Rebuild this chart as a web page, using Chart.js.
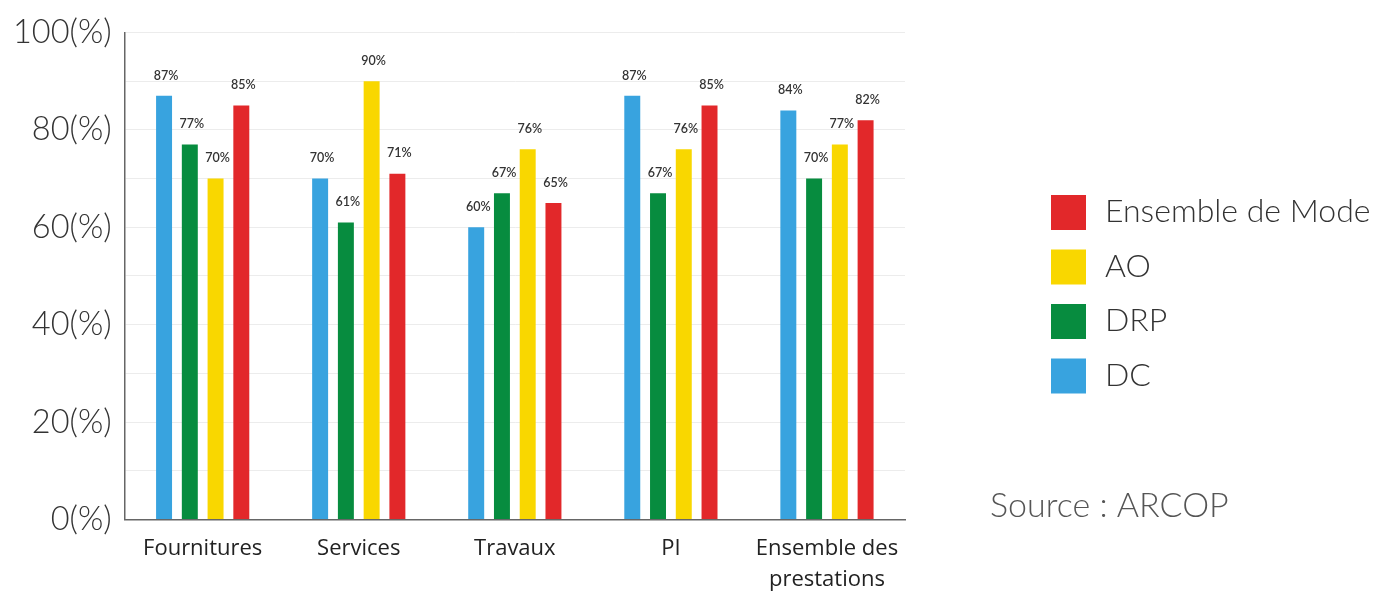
<!DOCTYPE html>
<html>
<head>
<meta charset="utf-8">
<script src="https://cdn.jsdelivr.net/npm/chart.js@4.4.1/dist/chart.umd.min.js"></script>
<style>
  html, body { margin: 0; padding: 0; background: #fff; }
  #wrap { width: 1374px; height: 593px; position: relative; }
</style>
</head>
<body>
<div id="wrap"><canvas id="chart"></canvas></div>
<script>
// categories and series values (percent)
const categories = ["Fournitures", "Services", "Travaux", "PI", ["Ensemble des", "prestations"]];
const dcValues = [87, 70, 60, 87, 84];
const drpValues = [77, 61, 67, 67, 70];
const aoValues = [70, 90, 76, 76, 77];
const ensembleValues = [85, 71, 65, 85, 82];
const seriesNames = ["DC", "DRP", "AO", "Ensemble de Mode"];
const seriesColors = ["#38a3df", "#078c3f", "#f9d700", "#e2282a"];
const yTicks = [0, 20, 40, 60, 80, 100];
const sourceText = "Source : ARCOP";

const FONT = "Lato, 'Noto Sans', sans-serif";
const XFONT = "'Open Sans', 'Noto Sans', sans-serif";

// value labels above each bar
const barLabels = {
  id: "barLabels",
  afterDatasetsDraw(chart) {
    const ctx = chart.ctx;
    ctx.save();
    ctx.font = "600 12.5px " + FONT;
    ctx.fillStyle = "#333";
    ctx.textAlign = "center";
    ctx.textBaseline = "bottom";
    chart.data.datasets.forEach((ds, i) => {
      const meta = chart.getDatasetMeta(i);
      meta.data.forEach((bar, j) => {
        ctx.fillText(ds.data[j] + "%", bar.x + 2, bar.y - 14);
      });
    });
    ctx.restore();
  }
};

// legend (reversed order) and source note on the right side
const sideLegend = {
  id: "sideLegend",
  afterDraw(chart) {
    const ctx = chart.ctx;
    const area = chart.chartArea;
    const x = area.right + 146;
    let y = 195;
    ctx.save();
    ctx.font = "300 32px " + FONT;
    ctx.textBaseline = "middle";
    ctx.textAlign = "left";
    for (let i = seriesNames.length - 1; i >= 0; i--) {
      ctx.fillStyle = seriesColors[i];
      ctx.fillRect(x, y, 35, 35);
      ctx.fillStyle = "#333";
      ctx.fillText(seriesNames[i], x + 54, y + 17);
      y += 54.5;
    }
    ctx.fillStyle = "#555";
    ctx.font = "300 34px " + FONT;
    ctx.fillText(sourceText, area.right + 85, 506);
    ctx.restore();
  }
};

const seriesData = [dcValues, drpValues, aoValues, ensembleValues];

new Chart(document.getElementById("chart"), {
  type: "bar",
  data: {
    labels: categories,
    datasets: seriesData.map((vals, i) => ({
      label: seriesNames[i],
      data: vals,
      backgroundColor: seriesColors[i],
      borderWidth: 0,
      categoryPercentage: 0.66,
      barPercentage: 0.62
    }))
  },
  options: {
    responsive: true,
    maintainAspectRatio: false,
    animation: false,
    layout: {
      padding: { top: 17, right: 469, left: 0, bottom: -16 }
    },
    plugins: {
      legend: { display: false },
      tooltip: { enabled: false }
    },
    scales: {
      y: {
        min: 0,
        max: 100,
        ticks: {
          stepSize: 10,
          padding: 13,
          color: "#333",
          font: { family: FONT, size: 32.5, weight: "300" },
          callback: (v) => (yTicks.includes(v) ? v + "(%)" : "")
        },
        grid: { color: "#ececec", drawTicks: false },
        border: { color: "#666", width: 1.5 }
      },
      x: {
        ticks: {
          padding: 14,
          color: "#222",
          font: { family: XFONT, size: 22, lineHeight: 1.4 },
          maxRotation: 0
        },
        grid: { display: false, drawTicks: false },
        border: { color: "#666", width: 1.5 }
      }
    }
  },
  plugins: [barLabels, sideLegend]
});
</script>
</body>
</html>
